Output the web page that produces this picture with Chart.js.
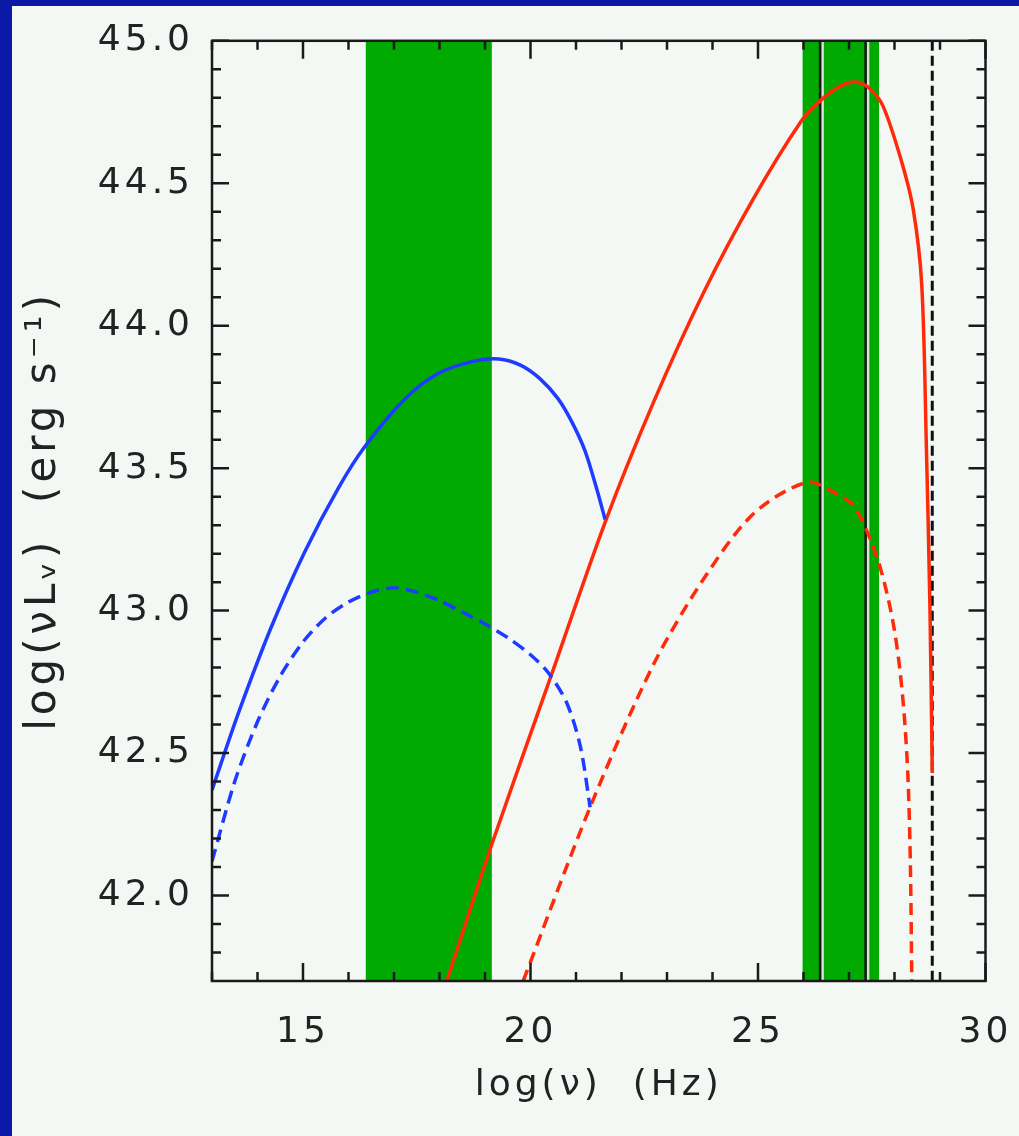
<!DOCTYPE html>
<html>
<head>
<meta charset="utf-8">
<script src="https://cdn.jsdelivr.net/npm/chart.js@4.4.0/dist/chart.umd.min.js"></script>
<style>
  html, body { margin: 0; padding: 0; background: #0a1aa6; }
  #wrap { position: absolute; left: 12px; top: 6px; width: 1007px; height: 1130px; background: #f4f8f4; }
</style>
</head>
<body>
<div id="wrap"><canvas id="sed" width="1007" height="1130"></canvas></div>
<script>
// axis labels
const xTickLabels = [15, 20, 25, 30];
const yTickLabels = [42.0, 42.5, 43.0, 43.5, 44.0, 44.5, 45.0];

// blue: synchrotron components (log nu, log nuLnu)
const blueSolidX = [13.0, 13.58, 14.31, 15.04, 15.78, 16.36, 17.24, 17.97, 18.71, 19.3, 19.8, 20.2, 20.6, 20.9, 21.2, 21.45, 21.64];
const blueSolidY = [42.37, 42.64, 42.945, 43.207, 43.431, 43.576, 43.743, 43.832, 43.874, 43.883, 43.86, 43.815, 43.745, 43.665, 43.56, 43.43, 43.32];
const blueDashX = [13.0, 13.5, 14.0, 14.5, 15.0, 15.5, 16.0, 16.5, 17.0, 17.5, 18.0, 18.5, 19.0, 19.5, 20.0, 20.4, 20.8, 21.1, 21.31];
const blueDashY = [42.12, 42.40, 42.61, 42.77, 42.89, 42.975, 43.03, 43.065, 43.08, 43.065, 43.035, 42.995, 42.953, 42.905, 42.845, 42.78, 42.675, 42.52, 42.31];

// red: inverse Compton components
const redSolidX = [18.16, 19.15, 20.45, 21.64, 22.70, 23.80, 24.90, 25.96, 26.37, 26.80, 27.15, 27.47, 27.75, 28.13, 28.41, 28.60, 28.70, 28.78, 28.83];
const redSolidY = [41.70, 42.18, 42.77, 43.31, 43.73, 44.115, 44.446, 44.72, 44.79, 44.84, 44.855, 44.83, 44.77, 44.59, 44.41, 44.14, 43.58, 43.00, 42.43];
const redDashX = [19.84, 21.31, 22.70, 23.80, 24.90, 26.07, 26.73, 27.09, 27.39, 27.65, 27.85, 28.00, 28.12, 28.22, 28.30, 28.35, 28.38];
const redDashY = [41.70, 42.31, 42.81, 43.11, 43.34, 43.45, 43.41, 43.37, 43.28, 43.17, 43.05, 42.93, 42.79, 42.62, 42.40, 42.10, 41.70];

// observed bands and marker lines
const greenBands = [[16.38, 19.15], [25.98, 27.66]];
const solidMarkers = [26.37, 27.37];
const dashedMarker = 28.83;

const FONT = 'DejaVu Sans';
const pts = (xs, ys) => xs.map((x, i) => ({ x: x, y: ys[i] }));

const bandsPlugin = {
  id: 'bands',
  beforeDraw(chart) {
    chart.ctx.letterSpacing = '4px';
  },
  beforeDatasetsDraw(chart) {
    const { ctx, chartArea: { top, bottom }, scales: { x } } = chart;
    ctx.save();
    ctx.fillStyle = '#00aa00';
    greenBands.forEach(b => {
      const x0 = x.getPixelForValue(b[0]);
      const x1 = x.getPixelForValue(b[1]);
      ctx.fillRect(x0, top, x1 - x0, bottom - top);
    });
    solidMarkers.forEach(v => {
      const px = x.getPixelForValue(v);
      ctx.fillStyle = '#dde4dd';
      ctx.fillRect(px + 1, top, 2.5, bottom - top);
      ctx.fillStyle = '#1a1a1a';
      ctx.fillRect(px - 1.5, top, 2.5, bottom - top);
    });
    const dx = x.getPixelForValue(dashedMarker);
    ctx.strokeStyle = '#111';
    ctx.lineWidth = 3;
    ctx.setLineDash([10, 5]);
    ctx.beginPath();
    ctx.moveTo(dx, top);
    ctx.lineTo(dx, bottom);
    ctx.stroke();
    ctx.restore();
  }
};

const framePlugin = {
  id: 'frame',
  afterDatasetsDraw(chart) {
    const { ctx, chartArea: { left, right, top, bottom }, scales: { x, y } } = chart;
    ctx.save();
    ctx.strokeStyle = '#1a1a1a';
    ctx.lineWidth = 2.5;
    ctx.setLineDash([]);
    ctx.strokeRect(left, top, right - left, bottom - top);
    ctx.beginPath();
    for (let v = 13; v <= 30; v++) {
      const px = x.getPixelForValue(v);
      const len = xTickLabels.includes(v) ? 18 : 9;
      ctx.moveTo(px, bottom); ctx.lineTo(px, bottom - len);
      ctx.moveTo(px, top); ctx.lineTo(px, top + len);
    }
    for (let k = 418; k <= 450; k++) {
      const py = y.getPixelForValue(k / 10);
      const len = k % 5 === 0 ? 17 : 9;
      ctx.moveTo(left, py); ctx.lineTo(left + len, py);
      ctx.moveTo(right, py); ctx.lineTo(right - len, py);
    }
    ctx.stroke();
    ctx.restore();
  }
};

new Chart(document.getElementById('sed'), {
  type: 'scatter',
  data: {
    datasets: [
      { data: pts(blueSolidX, blueSolidY), borderColor: '#1e3cff', borderWidth: 3.5 },
      { data: pts(blueDashX, blueDashY), borderColor: '#1e3cff', borderWidth: 3.5, borderDash: [13, 7] },
      { data: pts(redSolidX, redSolidY), borderColor: '#ff2a0a', borderWidth: 3.5 },
      { data: pts(redDashX, redDashY), borderColor: '#ff2a0a', borderWidth: 3.5, borderDash: [12, 7] }
    ].map(d => Object.assign(d, { showLine: true, pointRadius: 0, tension: 0.3, fill: false }))
  },
  options: {
    responsive: false,
    animation: false,
    devicePixelRatio: 1,
    layout: { padding: { left: 0, right: 33.5, top: 34.8, bottom: 0 } },
    plugins: { legend: { display: false }, tooltip: { enabled: false } },
    scales: {
      x: {
        type: 'linear', min: 13, max: 30,
        grid: { display: false, drawTicks: false },
        border: { display: false },
        afterBuildTicks: s => { s.ticks = xTickLabels.map(v => ({ value: v })); },
        afterFit: s => { s.height = 155; s.paddingLeft = 0; s.paddingRight = 0; },
        ticks: { font: { family: FONT, size: 36 }, color: '#222', padding: 30, maxRotation: 0, autoSkip: false },
        title: { display: true, text: 'log(ν)  (Hz)', font: { family: FONT, size: 36 }, color: '#222', padding: { top: 0, bottom: 29 } }
      },
      y: {
        type: 'linear', min: 41.7, max: 45,
        grid: { display: false, drawTicks: false },
        border: { display: false },
        afterBuildTicks: s => { s.ticks = yTickLabels.map(v => ({ value: v })); },
        afterFit: s => { s.width = 200; s.paddingTop = 0; s.paddingBottom = 0; },
        ticks: { font: { family: FONT, size: 36 }, color: '#222', padding: 18, autoSkip: false, callback: v => v.toFixed(1) },
        title: { display: true, text: 'log(νLᵥ)  (erg s⁻¹)', font: { family: FONT, size: 42 }, color: '#222', padding: { top: 7, bottom: 0 } }
      }
    }
  },
  plugins: [bandsPlugin, framePlugin]
});
</script>
</body>
</html>
